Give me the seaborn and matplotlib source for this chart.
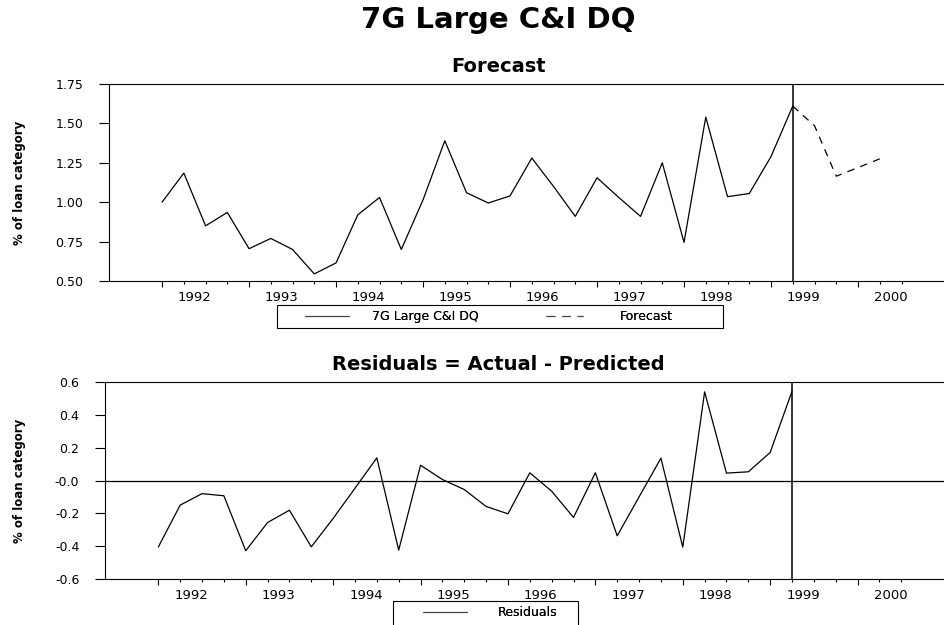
import numpy as np
import pandas as pd
import matplotlib
matplotlib.use("Agg")
import matplotlib.pyplot as plt
from matplotlib.lines import Line2D
from matplotlib.patches import Rectangle
from matplotlib.ticker import FixedLocator, FormatStrFormatter
import seaborn as sns

# ------------------ DATA ------------------
# actual series, quarterly 1992Q1 .. 1999Q2
actual_q = pd.period_range("1992Q1", "1999Q2", freq="Q")
actual = [1.00, 1.185, 0.85, 0.935, 0.705, 0.77, 0.70, 0.545, 0.615, 0.92,
          1.03, 0.70, 1.015, 1.39, 1.06, 0.995, 1.04, 1.28, 1.10, 0.91,
          1.155, 1.03, 0.91, 1.25, 0.745, 1.54, 1.035, 1.055, 1.29, 1.61]

# forecast, 1999Q2 .. 2000Q2
fc_q = pd.period_range("1999Q2", "2000Q2", freq="Q")
forecast = [1.61, 1.485, 1.165, 1.22, 1.275]

# residuals = actual - predicted
residuals = [-0.405, -0.15, -0.08, -0.093, -0.428, -0.256, -0.181, -0.404, -0.231, -0.047,
             0.138, -0.424, 0.093, 0.006, -0.055, -0.158, -0.203, 0.047, -0.065, -0.225,
             0.047, -0.337, -0.10, 0.136, -0.406, 0.540, 0.045, 0.053, 0.171, 0.544]

years = [1992, 1993, 1994, 1995, 1996, 1997, 1998, 1999, 2000]
cutoff = pd.Period("1999Q2", freq="Q")


def dec(p):
    return p.year + (p.quarter - 1) / 4


df_act = pd.DataFrame({"x": [dec(p) for p in actual_q], "y": actual, "r": residuals})
df_fc = pd.DataFrame({"x": [dec(p) for p in fc_q], "y": forecast})

# ------------------ STYLE ------------------
sns.set_style("ticks")
plt.rcParams["font.family"] = ["DejaVu Sans"]
for k in ["text.color", "axes.labelcolor", "xtick.color", "ytick.color", "axes.edgecolor"]:
    plt.rcParams[k] = "black"
plt.rcParams["axes.linewidth"] = 0.8

W, H = 945, 625
fig = plt.figure(figsize=(W / 100, H / 100), dpi=100)


def px(x, y, w, h):
    return [x / W, 1 - (y + h) / H, w / W, h / H]


ax1 = fig.add_axes(px(109, 84, 836, 197))
ax2 = fig.add_axes(px(105, 382, 840, 197))

XLIM = (1991.39, 2001.0)
all_q = pd.period_range("1992Q1", "2000Q3", freq="Q")
quarter_pos = [dec(p) for p in all_q]
label_pos = [y + 0.375 for y in years]


def style_x(ax):
    ax.set_xlim(*XLIM)
    ax.xaxis.set_major_locator(FixedLocator(years))
    ax.xaxis.set_minor_locator(FixedLocator(quarter_pos))
    ax.tick_params(axis="x", which="major", length=4.5, width=0.8, labelbottom=False)
    ax.tick_params(axis="x", which="minor", length=2.3, width=0.8)
    sec = ax.secondary_xaxis("bottom")
    sec.set_xticks(label_pos)
    sec.set_xticklabels([str(y) for y in years])
    sec.tick_params(length=0, pad=7, labelsize=9.5)
    sec.spines["bottom"].set_visible(False)
    ax.spines["right"].set_visible(False)
    ax.tick_params(axis="y", length=7, width=0.8, pad=11.5, labelsize=9)
    ax.axvline(dec(cutoff), color="black", lw=1.1)
    ax.set_xlabel("")
    ax.set_ylabel("")


# ------------------ TOP: FORECAST ------------------
sns.lineplot(data=df_act, x="x", y="y", ax=ax1, color="black", lw=0.9)
sns.lineplot(data=df_fc, x="x", y="y", ax=ax1, color="black", lw=0.9)
ax1.lines[-1].set_dashes((6, 5))
ax1.set_ylim(0.5, 1.75)
ax1.set_yticks([0.5, 0.75, 1.0, 1.25, 1.5, 1.75])
ax1.yaxis.set_major_formatter(FormatStrFormatter("%.2f"))
style_x(ax1)

# ------------------ BOTTOM: RESIDUALS ------------------
sns.lineplot(data=df_act, x="x", y="r", ax=ax2, color="black", lw=0.9)
ax2.axhline(0, color="black", lw=0.9)
ax2.set_ylim(-0.6, 0.6)
ax2.set_yticks([-0.6, -0.4, -0.2, 0.0, 0.2, 0.4, 0.6])
ax2.set_yticklabels(["-0.6", "-0.4", "-0.2", "-0.0", "0.2", "0.4", "0.6"])
style_x(ax2)

# ------------------ TEXT ------------------
fig.text(498 / W, 1 - 20 / H, "7G Large C&I DQ", ha="center", va="center",
         fontsize=21, fontweight="bold")
fig.text(499 / W, 1 - 67 / H, "Forecast", ha="center", va="center",
         fontsize=14, fontweight="bold")
fig.text(498 / W, 1 - 364 / H, "Residuals = Actual - Predicted", ha="center", va="center",
         fontsize=14, fontweight="bold")
for yc in (182.5, 480.5):
    fig.text(20 / W, 1 - yc / H, "% of loan category", rotation=90, ha="center", va="center",
             fontsize=8.5, fontweight="bold")

# ------------------ LEGENDS ------------------
def legend_box(x0, y0, x1, y1):
    fig.patches.append(Rectangle((x0 / W, 1 - y1 / H), (x1 - x0) / W, (y1 - y0) / H,
                                 transform=fig.transFigure, fill=False,
                                 edgecolor="black", lw=0.8))


def legend_entry(handle, label, x, yc, hlen, pad):
    lg = fig.legend([handle], [label], loc="center left", bbox_to_anchor=(x / W, 1 - yc / H),
                    frameon=False, fontsize=9, handlelength=hlen, handletextpad=pad,
                    borderpad=0, borderaxespad=0)
    fig.add_artist(lg)


h_act = Line2D([], [], color="#444444", lw=0.8)
h_fc = Line2D([], [], color="#444444", lw=0.8, dashes=(8, 6))

legend_box(277, 305, 723, 328)
legend_entry(h_act, "7G Large C&I DQ", 305, 316.5, 3.5, 1.9)
legend_entry(h_fc, "Forecast", 546, 316.5, 3.0, 2.9)

legend_box(393, 601, 578, 640)
legend_entry(h_act, "Residuals", 423, 613, 3.5, 2.5)

fig.savefig("out.png", dpi=100)
